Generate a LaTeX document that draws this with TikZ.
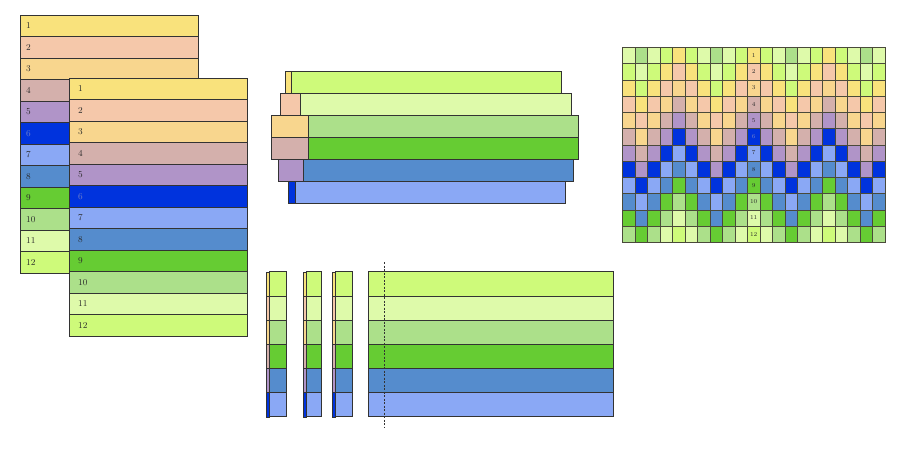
\documentclass[tikz,border=0pt]{standalone}
\definecolor{c1}{HTML}{F9E27C}
\definecolor{c2}{HTML}{F5C8AA}
\definecolor{c3}{HTML}{F8D68E}
\definecolor{c4}{HTML}{D4B0AC}
\definecolor{c5}{HTML}{B094C8}
\definecolor{c6}{HTML}{0033DD}
\definecolor{c7}{HTML}{8AA8F5}
\definecolor{c8}{HTML}{558CCD}
\definecolor{c9}{HTML}{66CC33}
\definecolor{c10}{HTML}{ACE08A}
\definecolor{c11}{HTML}{DEFAAA}
\definecolor{c12}{HTML}{CEFA7A}
\definecolor{edge}{HTML}{333333}
\definecolor{gridedge}{HTML}{4A4A3A}
\definecolor{labtext}{HTML}{2A2A2A}
\definecolor{labblue}{HTML}{7080C8}
\begin{document}
\begin{tikzpicture}[x=1pt,y=-1pt]
\tikzset{
  band/.style={draw=edge, line width=0.7pt},
  stackcell/.style={band, minimum width=178pt, minimum height=21.5pt, anchor=north west, inner sep=0pt, outer sep=0pt},
  lab/.style={anchor=west, inner sep=0pt, font=\fontsize{9}{10}\selectfont, text=labtext},
  gridcell/.style={draw=gridedge, line width=0.5pt},
  gridlab/.style={inner sep=0pt, font=\fontsize{6}{7}\selectfont, text=labtext},
  cutline/.style={draw=edge, line width=0.8pt, dash pattern=on 2pt off 1.5pt}
}
\useasboundingbox (0,0) rectangle (900,450);

% ---------- left: back stack ----------
\foreach \i in {1,...,12} {
  \pgfmathsetmacro\yt{15+21.5*(\i-1)}
  \node[stackcell, fill=c\i] (back\i) at (20,\yt) {};
  \ifnum\i=6
    \node[lab, text=labblue] (backlab\i) at ([xshift=6pt]back\i.west) {\i};
  \else
    \node[lab] (backlab\i) at ([xshift=6pt]back\i.west) {\i};
  \fi
}
% ---------- left: front stack ----------
\foreach \i in {1,...,12} {
  \pgfmathsetmacro\yt{78+21.5*(\i-1)}
  \node[stackcell, fill=c\i] (front\i) at (69,\yt) {};
  \ifnum\i=6
    \node[lab, text=labblue] (frontlab\i) at ([xshift=9pt]front\i.west) {\i};
  \else
    \node[lab] (frontlab\i) at ([xshift=9pt]front\i.west) {\i};
  \fi
}

% ---------- middle top: offset bars ----------
\foreach \yt/\yb/\xa/\xs/\xe/\ca/\cb in {
  71.7/93.3/285/291/561.7/c1/c12,
  93.3/115.7/280/300/571/c2/c11,
  115.7/137.3/271.7/308.3/578.3/c3/c10,
  137.3/159.3/271.7/308.3/578.3/c4/c9,
  159.3/181/278.3/303.3/573.3/c5/c8,
  181/203.3/288.3/295/565/c6/c7} {
  \draw[band, fill=\cb] (\xs,\yt) rectangle (\xe,\yb);
  \draw[band, fill=\ca] (\xa,\yt) rectangle (\xs,\yb);
}

% ---------- middle bottom: narrow strips and wide panel ----------
\foreach \xa/\xs/\xe in {266/269.5/286.7, 302.7/306.2/321.7, 331.7/335.2/352.3} {
  \foreach \r/\ca/\cb in {1/c1/c12, 2/c2/c11, 3/c3/c10, 4/c4/c9, 5/c5/c8, 6/c6/c7} {
    \pgfmathsetmacro\yt{271.7+24.17*(\r-1)}
    \pgfmathsetmacro\yb{271.7+24.17*\r}
    \draw[band, fill=\cb] (\xs,\yt) rectangle (\xe,\yb);
    \draw[band, line width=0.4pt, fill=\ca] (\xa,\yt) rectangle (\xs,\yb);
  }
}
\foreach \r/\cb in {1/c12, 2/c11, 3/c10, 4/c9, 5/c8, 6/c7} {
  \pgfmathsetmacro\yt{271.7+24.17*(\r-1)}
  \pgfmathsetmacro\yb{271.7+24.17*\r}
  \draw[band, fill=\cb] (368.3,\yt) rectangle (613.3,\yb);
}
\coordinate (cuttop) at (384,262);
\coordinate (cutbot) at (384,428);
\draw[cutline] (cuttop) -- (cutbot);

% ---------- right: woven grid ----------
\foreach \c in {1,...,21} {
  \pgfmathtruncatemacro\d{mod(\c-5+60,6)}
  \pgfmathtruncatemacro\off{-min(\d,6-\d)}
  \foreach \r in {1,...,12} {
    \pgfmathtruncatemacro\idx{mod(\r-1+\off+24,12)+1}
    \pgfmathsetmacro\xl{622.3+12.51*(\c-1)}
    \pgfmathsetmacro\xr{622.3+12.51*\c}
    \pgfmathsetmacro\yt{47.3+16.25*(\r-1)}
    \pgfmathsetmacro\yb{47.3+16.25*\r}
    \draw[gridcell, fill=c\idx] (\xl,\yt) rectangle (\xr,\yb);
  }
}
\foreach \r in {1,...,12} {
  \pgfmathsetmacro\ym{47.3+16.25*(\r-0.5)}
  \ifnum\r=6
    \node[gridlab, text=labblue] (glab\r) at (753.7,\ym) {\r};
  \else
    \node[gridlab] (glab\r) at (753.7,\ym) {\r};
  \fi
}
\end{tikzpicture}
\end{document}
